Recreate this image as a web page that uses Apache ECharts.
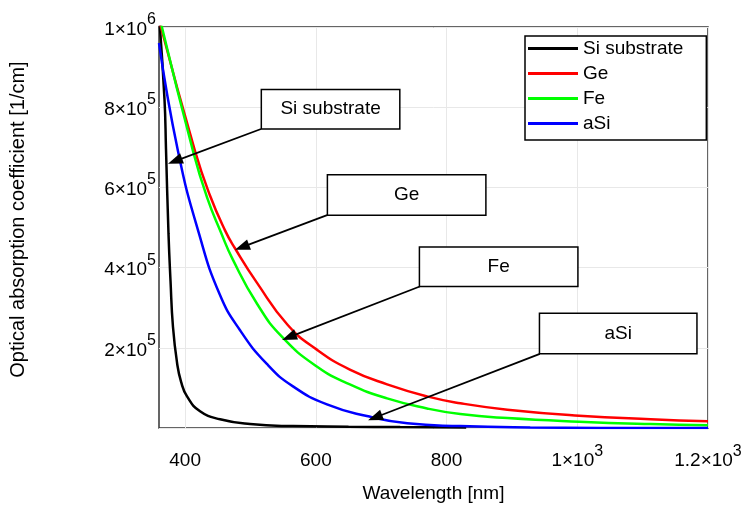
<!DOCTYPE html>
<html><head><meta charset="utf-8">
<script src="https://cdn.jsdelivr.net/npm/echarts@6/dist/echarts.min.js"></script>
<style>html,body{margin:0;padding:0;background:#fff}#c{width:748px;height:508px}</style>
</head><body><div id="c"></div>
<script>
// ---- data (y in units of 1e5 cm^-1, x in nm) ----
const seriesNames = ['Si substrate', 'Ge', 'Fe', 'aSi'];
const siX = [360, 368.4, 370.7, 374.5, 377.6, 381.4, 387.6, 393.7, 402.9, 422.8, 453.4, 499.3, 565, 650, 729, 830];
const siY = [10.3, 8.2, 6.96, 4.86, 3.68, 2.52, 1.63, 1.16, 0.79, 0.42, 0.22, 0.10, 0.05, 0.035, 0.025, 0.015];
const geX = [360, 415, 438, 461, 476, 510, 557, 602, 652, 709, 770, 821, 893, 1003, 1112, 1200];
const geY = [10.19, 6.91, 5.8, 4.93, 4.49, 3.62, 2.57, 1.95, 1.46, 1.09, 0.79, 0.62, 0.46, 0.31, 0.22, 0.17];
const feX = [360, 412, 433.5, 455, 473, 510, 548, 602, 652, 709, 770, 821, 893, 1003, 1112, 1200];
const feY = [10.3, 6.91, 5.75, 4.87, 4.2, 3.1, 2.28, 1.53, 1.09, 0.74, 0.49, 0.35, 0.25, 0.16, 0.10, 0.07];
const asiX = [360, 389, 421, 453, 484, 525, 565, 617, 678, 740, 821, 928, 1035, 1200];
const asiY = [9.6, 6.91, 4.86, 3.33, 2.44, 1.60, 1.04, 0.59, 0.30, 0.12, 0.05, 0.015, 0.005, 0.002];

const xTicks = [400, 600, 800, 1000, 1200];
const xTickLabels = ['400', '600', '800', '1×10^3', '1.2×10^3'];
const yTicks = [2, 4, 6, 8, 10];
const yTickLabels = ['2×10^5', '4×10^5', '6×10^5', '8×10^5', '1×10^6'];

// annotation texts, box centres and arrow ends (data units)
const noteTexts = ['Si substrate', 'Ge', 'Fe', 'aSi'];
const noteBoxAt = [[622.5, 7.95], [738.9, 5.81], [879.7, 4.02], [1062.6, 2.36]];
const noteArrowFrom = [[516.1, 7.457], [617.2, 5.309], [759.0, 3.531], [942.7, 1.852]];
const noteArrowTo = [[384.5, 6.657], [487.0, 4.511], [559.0, 2.267], [690.6, 0.264]];

// ---- styles ----
const FONT = '"Liberation Sans", Arial, sans-serif';
const colors = ['#000000', '#ff0000', '#00ff00', '#0000ff'];
const boxSizes = [[139, 40], [159, 41], [159, 40], [158, 41]];

function zip(xs, ys) { return xs.map((x, i) => [x, ys[i]]); }
function fmt(ticks, labels) {
  return function (v) {
    const i = ticks.findIndex(t => Math.abs(t - v) < 1e-6);
    if (i < 0) return '';
    const parts = labels[i].split('^');
    return '{b|' + parts[0] + '}' + (parts[1] ? '{s|' + parts[1] + '}' : '');
  };
}
const rich = {
  b: { fontSize: 19, fontFamily: FONT, color: '#000' },
  s: { fontSize: 16, fontFamily: FONT, color: '#000', verticalAlign: 'top' }
};

const seriesData = [zip(siX, siY), zip(geX, geY), zip(feX, feY), zip(asiX, asiY)];

const series = seriesNames.map((n, i) => ({
  name: n, type: 'line', data: seriesData[i],
  showSymbol: false, symbol: 'none', smooth: 0.5,
  lineStyle: { width: 2.5, color: colors[i] }, itemStyle: { color: colors[i] },
  clip: true, z: 2
}));

series.push({
  name: 'notes', type: 'line', data: [], z: 5,
  markLine: {
    silent: true, animation: false,
    symbol: ['none', 'triangle'], symbolSize: [11, 15],
    lineStyle: { color: '#000', width: 1.8, type: 'solid' },
    itemStyle: { color: '#000' },
    label: { show: false },
    emphasis: { disabled: true },
    data: noteArrowFrom.map((f, i) => [{ coord: f }, { coord: noteArrowTo[i] }])
  },
  markPoint: {
    silent: true, animation: false,
    symbol: 'circle', symbolSize: 0,
    itemStyle: { color: 'transparent' },
    data: noteTexts.map((t, i) => ({
      name: t, coord: noteBoxAt[i],
      label: {
        show: true, position: 'inside', color: '#000', fontSize: 19, fontFamily: FONT,
        formatter: p => p.name,
        width: boxSizes[i][0] - 2, height: boxSizes[i][1] - 2, lineHeight: boxSizes[i][1] - 2,
        align: 'center', verticalAlign: 'middle',
        backgroundColor: '#fff', borderColor: '#000', borderWidth: 1.5
      }
    }))
  }
});

const chart = echarts.init(document.getElementById('c'), null, { renderer: 'canvas' });
chart.setOption({
  animation: false,
  backgroundColor: '#fff',
  textStyle: { fontFamily: FONT },
  grid: { left: 159, right: 40, top: 27, bottom: 76, show: true, borderColor: '#333', borderWidth: 1.5, backgroundColor: 'transparent' },
  legend: {
    data: seriesNames, orient: 'vertical', left: 525, top: 36,
    padding: [3, 23, 7, 3], itemGap: 6, itemWidth: 50, itemHeight: 3, icon: 'rect',
    borderColor: '#000', borderWidth: 1.5, backgroundColor: '#fff',
    textStyle: { fontSize: 19, lineHeight: 19, color: '#000', fontFamily: FONT },
    selectedMode: false
  },
  xAxis: {
    type: 'value', min: 360, max: 1200,
    name: 'Wavelength [nm]', nameLocation: 'middle', nameGap: 55,
    nameTextStyle: { fontSize: 19, color: '#000', fontFamily: FONT },
    axisLine: { show: false }, axisTick: { show: false, customValues: xTicks },
    axisLabel: { customValues: xTicks, margin: 15, lineHeight: 36, formatter: fmt(xTicks, xTickLabels), rich: rich },
    splitLine: { show: true, lineStyle: { color: '#e8e8e8', width: 1 } }
  },
  yAxis: {
    type: 'value', min: 0, max: 10, interval: 2,
    name: 'Optical absorption coefficient [1/cm]', nameLocation: 'middle', nameGap: 131,
    nameTextStyle: { fontSize: 20, color: '#000', fontFamily: FONT, padding: [0, 0, 0, 16] },
    axisLine: { show: false }, axisTick: { show: false },
    axisLabel: { margin: 3, lineHeight: 36, padding: [5, 0, 0, 0], formatter: fmt(yTicks, yTickLabels), rich: rich },
    splitLine: { show: true, lineStyle: { color: '#e8e8e8', width: 1 } }
  },
  series: series
});
</script>
</body></html>
